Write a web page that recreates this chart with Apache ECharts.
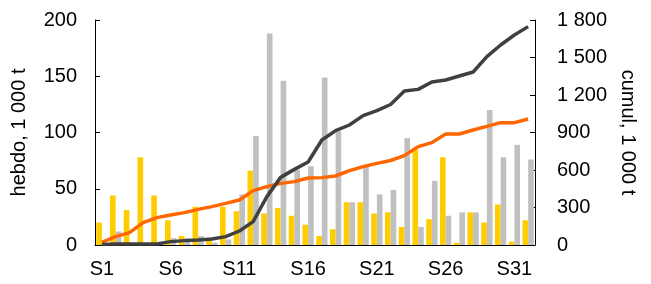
<!DOCTYPE html>
<html>
<head>
<meta charset="utf-8">
<script src="https://cdn.jsdelivr.net/npm/echarts@6/dist/echarts.min.js"></script>
<style>
  html, body { margin: 0; padding: 0; background: #fff; }
  #chart { width: 651px; height: 284px; }
</style>
</head>
<body>
<div id="chart"></div>
<script>
const weeks = []
for (let i = 1; i <= 32; i++) weeks.push('S' + i)

// weekly volumes, 1 000 t (left axis)
const hebdoJaune = [20, 44, 31, 78, 44, 22, 8, 34, 5, 34, 30, 66, 28, 33, 26, 18, 8, 14, 38, 38, 28, 29, 16, 85, 23, 78, 2, 29, 20, 36, 3, 22]
const hebdoGris = [0, 12, 0, 0, 0, 6, 6, 8, 2, 5, 45, 97, 188, 146, 67, 70, 149, 101, 38, 70, 45, 49, 95, 16, 57, 26, 29, 29, 120, 78, 89, 76]

// cumulative, 1 000 t (right axis)
const cumulJaune = [22, 67, 99, 179, 219, 240, 259, 285, 307, 333, 360, 435, 467, 493, 507, 536, 539, 552, 595, 627, 653, 676, 715, 787, 819, 888, 888, 920, 949, 979, 979, 1008]
const cumulGris = [5, 8, 8, 8, 8, 27, 35, 40, 48, 67, 112, 187, 387, 541, 605, 664, 840, 915, 960, 1035, 1075, 1124, 1232, 1245, 1304, 1320, 1352, 1384, 1507, 1600, 1680, 1747]

const font = 'Liberation Sans, Arial, sans-serif'
const chart = echarts.init(document.getElementById('chart'))

chart.setOption({
    animation: false,
    textStyle: { fontFamily: font },
    grid: { left: 95, right: 116, top: 20, bottom: 39 },
    xAxis: {
        type: 'category',
        data: weeks,
        axisLine: { lineStyle: { color: '#000', width: 1 } },
        axisTick: { show: false },
        axisLabel: { interval: 4, color: '#000', fontSize: 20, margin: 14 }
    },
    yAxis: [
        {
            type: 'value',
            min: 0, max: 200, interval: 50,
            name: 'hebdo, 1 000 t',
            nameLocation: 'middle',
            nameGap: 66,
            nameTextStyle: { color: '#000', fontSize: 20 },
            axisLine: { show: true, lineStyle: { color: '#000' } },
            axisTick: { show: true, inside: true, length: 5 },
            axisLabel: { color: '#000', fontSize: 20, margin: 18 },
            splitLine: { show: false }
        },
        {
            type: 'value',
            min: 0, max: 1800, interval: 300,
            name: 'cumul, 1 000 t',
            nameLocation: 'middle',
            nameGap: 82,
            nameRotate: -90,
            nameTextStyle: { color: '#000', fontSize: 20 },
            axisLine: { show: true, lineStyle: { color: '#000' } },
            axisTick: { show: true, inside: true, length: 5 },
            axisLabel: {
                color: '#000', fontSize: 20, margin: 22,
                formatter: v => String(v).replace(/\B(?=(\d{3})+(?!\d))/g, ' ')
            },
            splitLine: { show: false }
        }
    ],
    series: [
        {
            type: 'bar',
            data: hebdoJaune,
            barGap: '0%',
            barCategoryGap: '18%',
            itemStyle: { color: '#ffcc00' }
        },
        {
            type: 'bar',
            data: hebdoGris,
            itemStyle: { color: '#c0c0c0' }
        },
        {
            type: 'line',
            yAxisIndex: 1,
            data: cumulJaune,
            symbol: 'none',
            lineStyle: { color: '#ff6600', width: 3.5 }
        },
        {
            type: 'line',
            yAxisIndex: 1,
            data: cumulGris,
            symbol: 'none',
            lineStyle: { color: '#404040', width: 3.5 }
        }
    ]
})
</script>
</body>
</html>
